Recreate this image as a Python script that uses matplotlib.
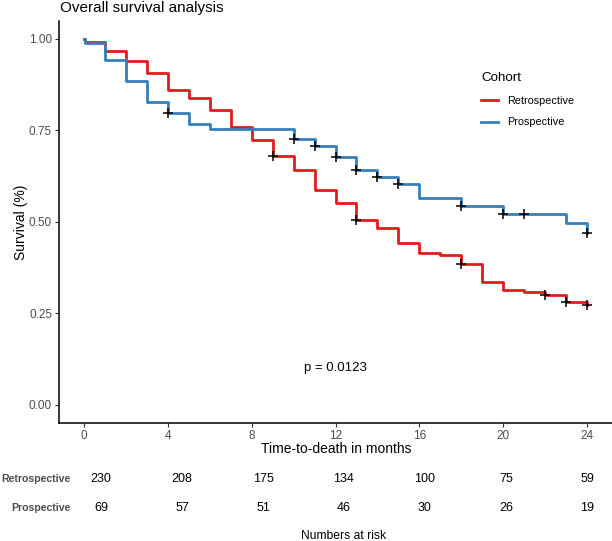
import numpy as np
import matplotlib
matplotlib.use("Agg")
import matplotlib.pyplot as plt

plt.rcParams['font.family'] = ['Liberation Sans', 'DejaVu Sans']

# Kaplan-Meier steps (time in months, survival after step)
retro_time = [0, 0.05, 1, 2, 3, 4, 5, 6, 7, 8, 9, 10, 11, 12, 13, 14, 15, 16, 17, 18, 19, 20, 21, 22, 23, 24]
retro_surv = [1.0, 0.992, 0.968, 0.940, 0.906, 0.861, 0.838, 0.806, 0.760, 0.724, 0.680, 0.642, 0.587,
              0.552, 0.504, 0.483, 0.442, 0.414, 0.408, 0.385, 0.335, 0.314, 0.309, 0.300, 0.282, 0.273]
retro_cens_t = [9, 13, 18, 22, 23, 24]
retro_cens_s = [0.680, 0.504, 0.385, 0.300, 0.282, 0.273]

pros_time = [0, 0.05, 1, 2, 3, 4, 5, 6, 10, 11, 12, 13, 14, 15, 16, 18, 20, 23, 24]
pros_surv = [1.0, 0.988, 0.943, 0.885, 0.827, 0.797, 0.767, 0.753, 0.726, 0.708, 0.678, 0.642, 0.622,
             0.604, 0.564, 0.542, 0.522, 0.496, 0.469]
pros_cens_t = [4, 10, 11, 12, 13, 14, 15, 18, 20, 21, 24]
pros_cens_s = [0.797, 0.726, 0.708, 0.678, 0.642, 0.622, 0.604, 0.542, 0.522, 0.522, 0.469]

# numbers at risk
risk_times = [0, 4, 8, 12, 16, 20, 24]
risk_retro = [230, 208, 175, 134, 100, 75, 59]
risk_pros = [69, 57, 51, 46, 30, 26, 19]

red = '#E41A1C'
blue = '#377EB8'
W, H = 612, 541

fig = plt.figure(figsize=(W / 100, H / 100), dpi=100)

# main survival panel
ax = fig.add_axes([59 / W, 1 - 423 / H, (612 - 59) / W, (423 - 20.7) / H])
l1, = ax.step(retro_time, retro_surv, where='post', color=red, lw=2.0, label='Retrospective')
l2, = ax.step(pros_time, pros_surv, where='post', color=blue, lw=2.0, label='Prospective')
ax.plot(retro_cens_t, retro_cens_s, '+', color='black', ms=7, mew=1.1, zorder=5)
ax.plot(pros_cens_t, pros_cens_s, '+', color='black', ms=7, mew=1.1, zorder=5)

ax.set_xlim(-1.2, 25.2)
ax.set_ylim(-0.05, 1.05)
ax.set_xticks(risk_times)
ax.set_yticks([0, 0.25, 0.5, 0.75, 1.0])
ax.set_yticklabels(['0.00', '0.25', '0.50', '0.75', '1.00'])
ax.tick_params(labelsize=8.5, labelcolor='#4D4D4D', color='#333333', length=3, width=0.8, pad=2)
for s in ['top', 'right']:
    ax.spines[s].set_visible(False)
for s in ['left', 'bottom']:
    ax.spines[s].set_linewidth(1.1)
    ax.spines[s].set_color('black')

ax.text(12, 0.1, 'p = 0.0123', ha='center', va='center', fontsize=9.5)

leg = ax.legend(handles=[l1, l2], title='Cohort', frameon=False, loc='upper left',
                bbox_to_anchor=(481 / W, 1 - 72 / H), bbox_transform=fig.transFigure,
                fontsize=7.8, title_fontsize=9.6, handlelength=1.6, handletextpad=0.85,
                labelspacing=1.08, borderpad=0, borderaxespad=0)
leg._legend_box.align = 'left'

fig.text(60 / W, 1 - 8 / H, 'Overall survival analysis', fontsize=11, va='center', ha='left')
fig.text(21 / W, 1 - 222 / H, 'Survival (%)', fontsize=10, rotation=90, va='center', ha='center')
fig.text(336 / W, 1 - 449 / H, 'Time-to-death in months', fontsize=10, va='center', ha='center')

# risk table
tab = fig.add_axes([101 / W, 1 - 522 / H, 486 / W, 57 / H])
tab.set_xlim(0, 24)
tab.set_ylim(0, 2)
tab.axis('off')
for t, n in zip(risk_times, risk_retro):
    tab.text(t, 1.5, str(n), ha='center', va='center', fontsize=9)
for t, n in zip(risk_times, risk_pros):
    tab.text(t, 0.5, str(n), ha='center', va='center', fontsize=9)
fig.text(71 / W, 1 - 479 / H, 'Retrospective', ha='right', va='center', fontsize=7.6,
         fontweight='bold', color='#4D4D4D')
fig.text(71 / W, 1 - 507.7 / H, 'Prospective', ha='right', va='center', fontsize=7.6,
         fontweight='bold', color='#4D4D4D')
fig.text(344 / W, 1 - 536 / H, 'Numbers at risk', ha='center', va='center', fontsize=8.7)

fig.savefig('out.png', dpi=100)
